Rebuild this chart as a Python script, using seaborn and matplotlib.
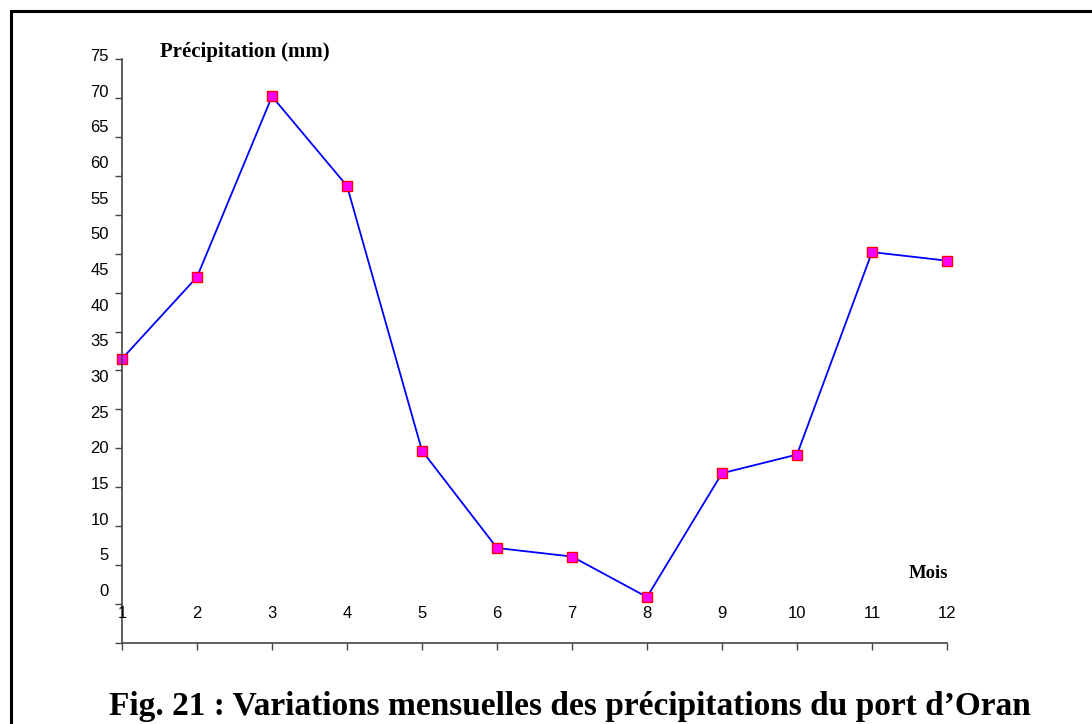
import numpy as np
import pandas as pd
import seaborn as sns
import matplotlib.pyplot as plt

# donnees
mois = [1, 2, 3, 4, 5, 6, 7, 8, 9, 10, 11, 12]
precip = [36.5, 47.0, 70.2, 58.7, 24.7, 12.2, 11.1, 5.9, 21.8, 24.2, 50.2, 49.1]
graduations = list(range(0, 80, 5))
etiquettes_y = [str(v) for v in graduations]
etiquettes_x = [str(m) for m in mois]

sns.set_style("white")
plt.rcParams['font.family'] = ['Liberation Sans', 'DejaVu Sans']
plt.rcParams['text.color'] = 'black'
plt.rcParams['xtick.color'] = 'black'
plt.rcParams['ytick.color'] = 'black'

df = pd.DataFrame({'Mois': mois, 'Precip': precip})

fig = plt.figure(figsize=(10.92, 7.24), dpi=100)
rect = [122 / 1092, 81 / 724, 825 / 1092, 603 / 724]

# axe principal : courbe + graduations
ax = fig.add_axes(rect)
sns.lineplot(data=df, x='Mois', y='Precip', ax=ax, color='#0000FF', lw=1.3,
             marker='s', markersize=6.5, markerfacecolor='#FF00FF',
             markeredgecolor='#FF0000', markeredgewidth=1, clip_on=False)
ax.set_xlim(1, 12)
ax.set_ylim(0, 77.44)
ax.set_xticks(mois)
ax.set_yticks(graduations)
ax.tick_params(labelleft=False, labelbottom=False, length=5, width=1,
               color='#444444', direction='out', left=True, bottom=True)
for s in ['top', 'right']:
    ax.spines[s].set_visible(False)
for s in ['left', 'bottom']:
    ax.spines[s].set_color('#444444')
    ax.spines[s].set_linewidth(1.2)
ax.spines['left'].set_bounds(0, 75)
ax.set_xlabel('')
ax.set_ylabel('')

# etiquettes decalees (comme dans l'original)
ax_lab = fig.add_axes(rect, sharex=ax)
ax_lab.patch.set_visible(False)
ax_lab.set_ylim(-7.43, 77.11)
ax_lab.set_yticks(graduations)
ax_lab.set_yticklabels(etiquettes_y)
ax_lab.set_xticks(mois)
ax_lab.set_xticklabels(etiquettes_x)
ax_lab.tick_params(axis='y', length=0, labelsize=12, labelcolor='black', pad=9.4)
ax_lab.tick_params(axis='x', length=0, labelsize=12, labelcolor='black', pad=2.5)
for s in ax_lab.spines.values():
    s.set_visible(False)
ax_lab.spines['bottom'].set_position(('data', -1.7))

serif = ['Liberation Serif', 'DejaVu Serif']
fig.text(245 / 1092, 1 - 52 / 724, 'Précipitation (mm)', ha='center', va='center',
         family=serif, fontweight='bold', fontsize=15)
fig.text(948 / 1092, 1 - 578 / 724, 'Mois', ha='right', va='baseline',
         family=serif, fontweight='bold', fontsize=13.5)
fig.text(570 / 1092, 1 - 715 / 724,
         'Fig. 21 : Variations mensuelles des précipitations du port d\u2019Oran',
         ha='center', va='baseline', family=serif, fontweight='bold', fontsize=24)

# cadre
cadre = plt.Rectangle((10.5 / 1092, -0.2), 1.2, 0.2 + 1 - 11 / 724,
                      transform=fig.transFigure, fill=False, lw=2.2,
                      edgecolor='black', clip_on=False)
fig.add_artist(cadre)

fig.savefig('out.png', dpi=100)
